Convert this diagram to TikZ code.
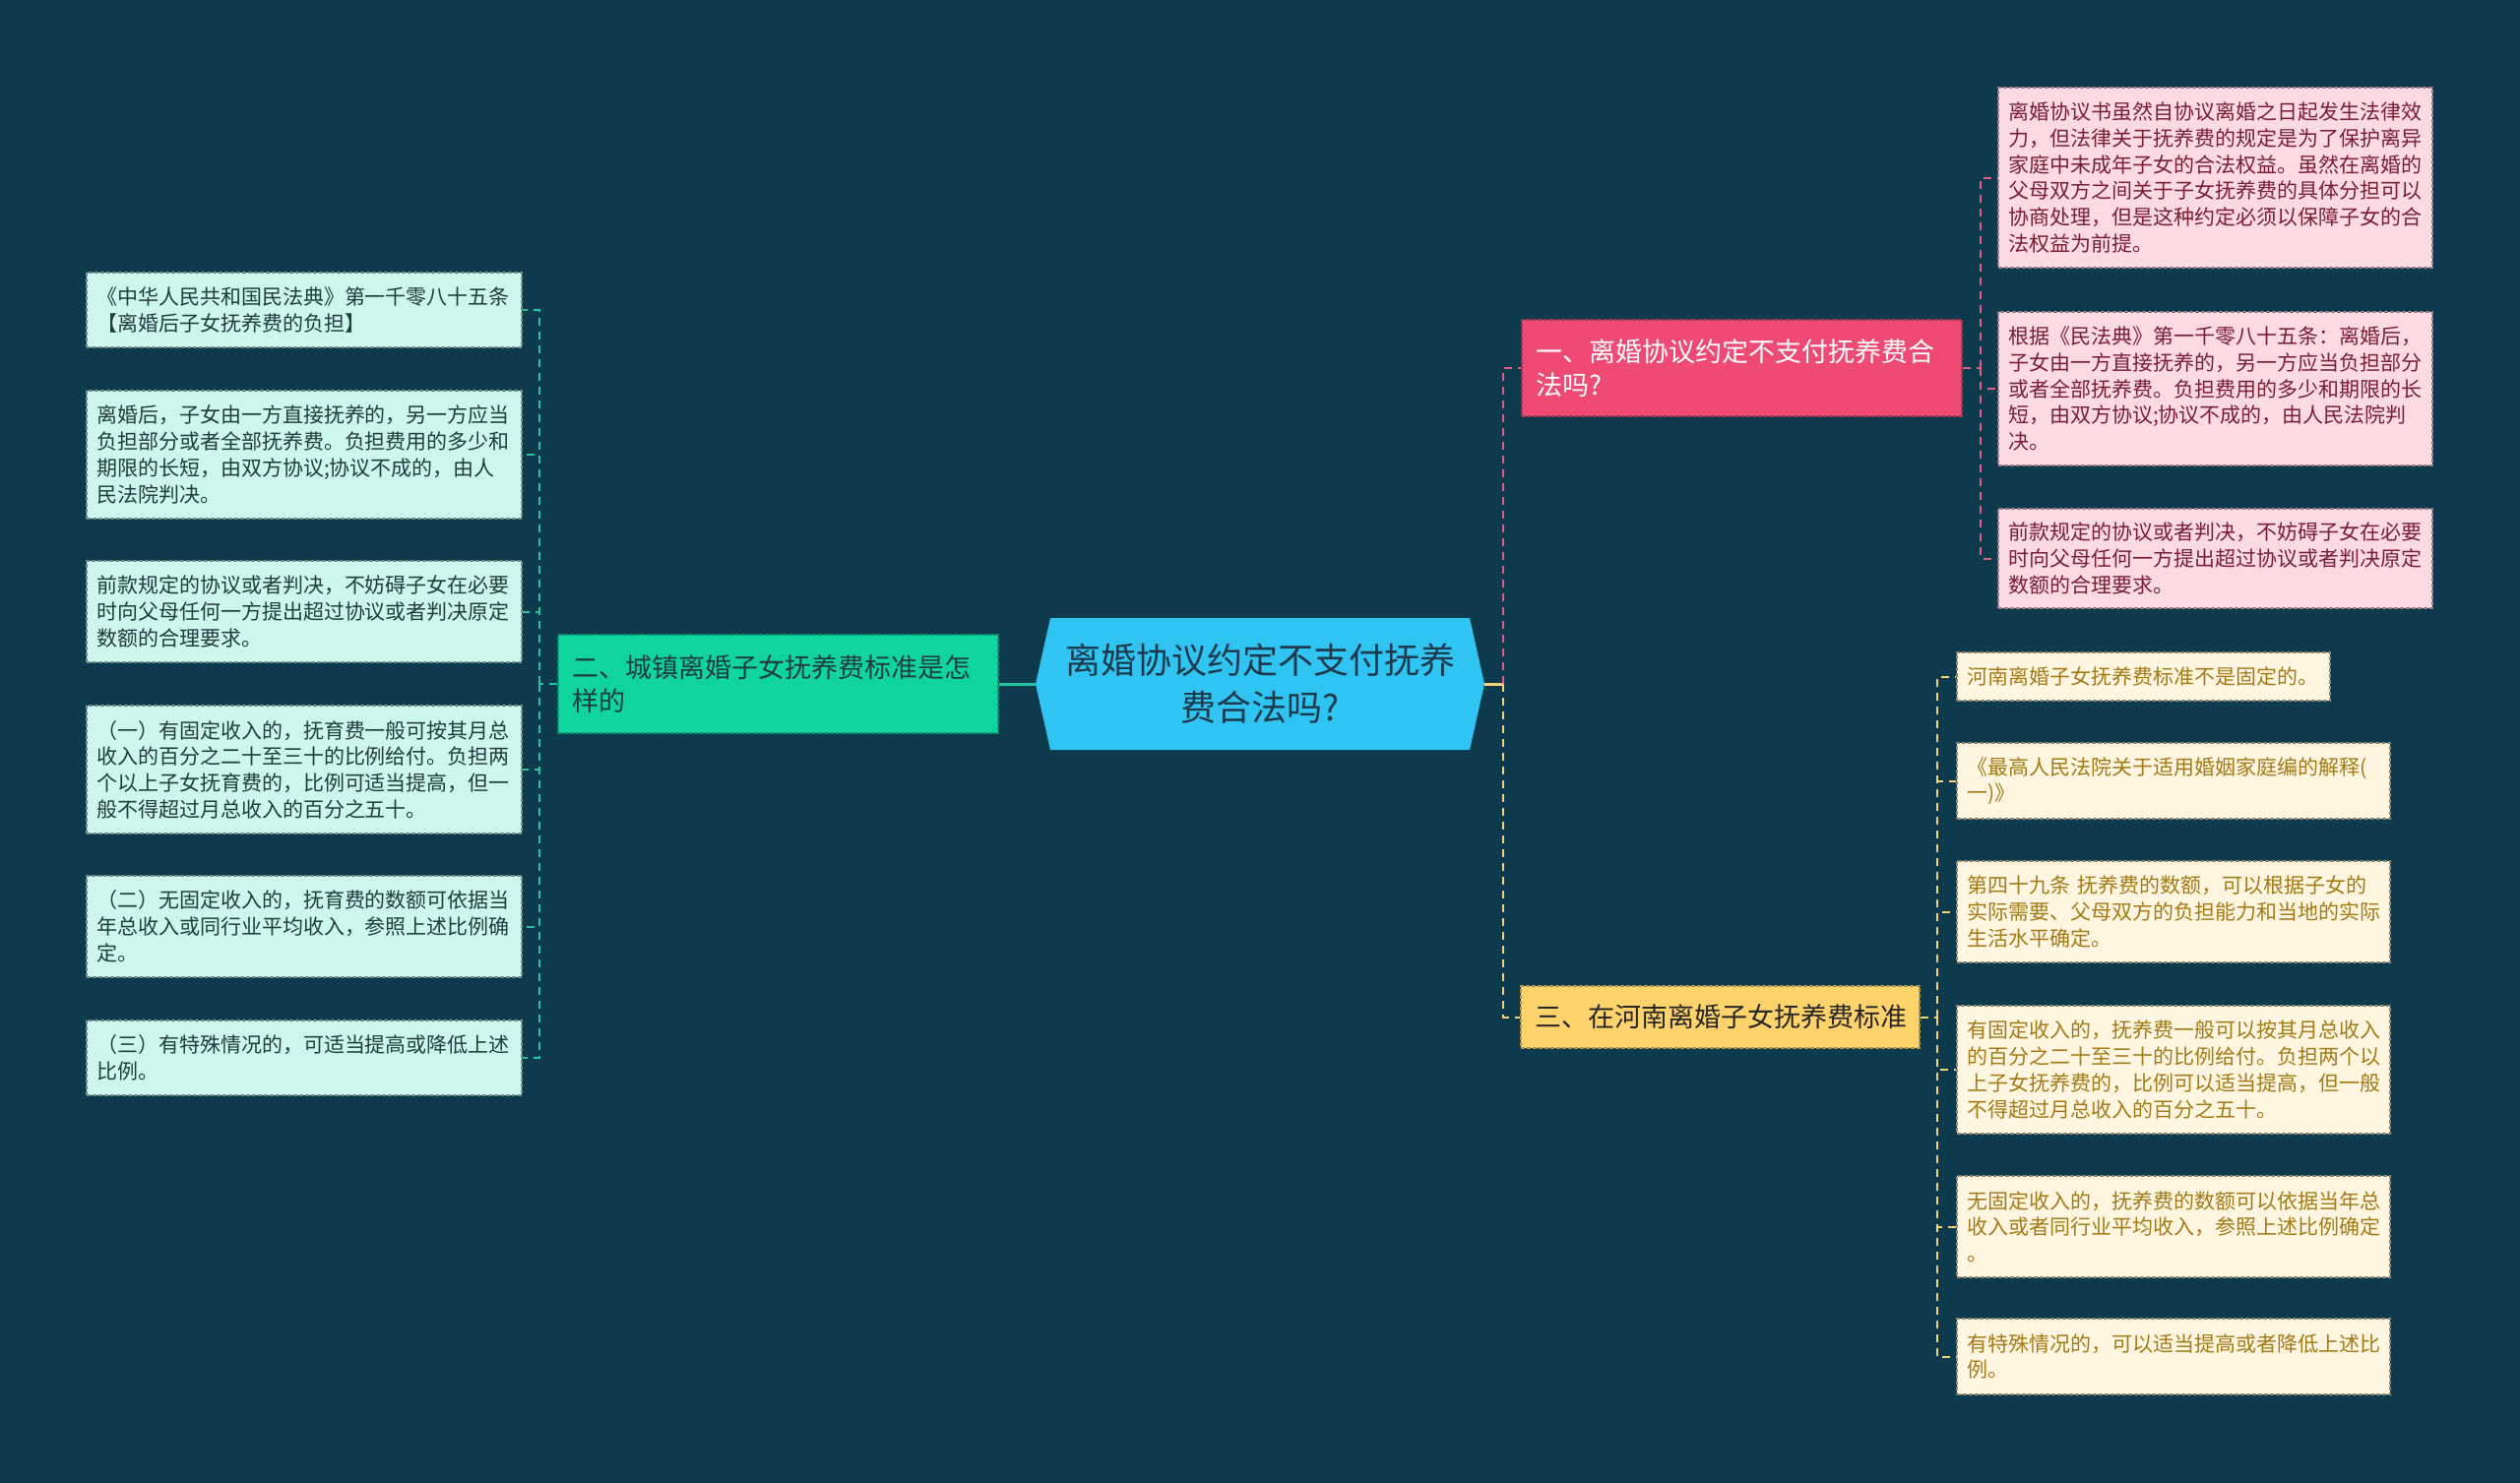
\documentclass[tikz,border=0pt]{standalone}
\usepackage{fontspec}
\setmainfont{Noto Sans CJK SC}
\definecolor{bg}{HTML}{0D3A4D}
\definecolor{centerfill}{HTML}{30C4F2}
\definecolor{centertext}{HTML}{1D3A4C}
\definecolor{pinkbranch}{HTML}{EE4A73}
\definecolor{pinkleaf}{HTML}{FBDAE2}
\definecolor{pinktext}{HTML}{7A1E34}
\definecolor{pinkline}{HTML}{DE5E86}
\definecolor{pinkborder}{HTML}{9A7C86}
\definecolor{greenbranch}{HTML}{10D49E}
\definecolor{greenleaf}{HTML}{CDF6EC}
\definecolor{greentext}{HTML}{1F3D3C}
\definecolor{greenline}{HTML}{25C4A0}
\definecolor{greenborder}{HTML}{6F8C88}
\definecolor{yellowbranch}{HTML}{FFD36B}
\definecolor{yellowleaf}{HTML}{FEF6E1}
\definecolor{yellowtext}{HTML}{A37A16}
\definecolor{yellowline}{HTML}{F3D27A}
\definecolor{yellowborder}{HTML}{8F8670}
\begin{document}
\begin{tikzpicture}[x=1pt,y=-1pt,
  leaf/.style={draw, dash pattern=on 4pt off 2pt, line width=1.1pt, align=left,
    inner xsep=10pt, inner ysep=0pt, anchor=center,
    font=\fontsize{21}{26.7}\selectfont},
  pleaf/.style={leaf, fill=pinkleaf, draw=pinkborder, text=pinktext, text width=421pt, minimum width=441pt},
  gleaf/.style={leaf, fill=greenleaf, draw=greenborder, text=greentext, text width=422pt, minimum width=442pt},
  yleaf/.style={leaf, fill=yellowleaf, draw=yellowborder, text=yellowtext, text width=420pt, minimum width=440pt},
  branch/.style={draw, dash pattern=on 4pt off 2pt, line width=1.1pt, align=left,
    inner xsep=14pt, inner ysep=0pt, anchor=center,
    font=\fontsize{27}{34}\selectfont},
  conn/.style={line width=2pt, dash pattern=on 8pt off 6pt},
  solidconn/.style={line width=3pt}
]
\useasboundingbox (0,0) rectangle (2560,1507);
\fill[bg] (0,0) rectangle (2560,1507);

% center node
\fill[centerfill] (1052,695) -- (1067,628) -- (1493,628) -- (1508,695) -- (1493,762) -- (1067,762) -- cycle;
\node[minimum width=456pt, minimum height=134pt, inner sep=0pt, align=center,
  text=centertext, font=\fontsize{36}{48}\selectfont] (c) at (1280,695)
  {离婚协议约定不支付抚养\\费合法吗?};

% branches
\node[branch, fill=pinkbranch, draw=pinkbranch!70!black, text=white, text width=419pt,
  minimum width=447pt, minimum height=98pt] (b1) at (1769.5,374)
  {一、离婚协议约定不支付抚养费合\\法吗?};
\node[branch, fill=greenbranch, draw=greenbranch!70!black, text=greentext, text width=419pt,
  minimum width=447pt, minimum height=100pt] (b2) at (790.5,695)
  {二、城镇离婚子女抚养费标准是怎\\样的};
\node[branch, fill=yellowbranch, draw=yellowbranch!70!black, text=black!85, text width=377pt,
  minimum width=405pt, minimum height=63pt] (b3) at (1747.5,1033.5)
  {三、在河南离婚子女抚养费标准};

% pink leaves
\node[pleaf, minimum height=183pt] (p1) at (2250.5,180.5)
  {离婚协议书虽然自协议离婚之日起发生法律效\\力，但法律关于抚养费的规定是为了保护离异\\家庭中未成年子女的合法权益。虽然在离婚的\\父母双方之间关于子女抚养费的具体分担可以\\协商处理，但是这种约定必须以保障子女的合\\法权益为前提。};
\node[pleaf, minimum height=156pt] (p2) at (2250.5,395)
  {根据《民法典》第一千零八十五条：离婚后，\\子女由一方直接抚养的，另一方应当负担部分\\或者全部抚养费。负担费用的多少和期限的长\\短，由双方协议;协议不成的，由人民法院判\\决。};
\node[pleaf, minimum height=101pt] (p3) at (2250.5,567.5)
  {前款规定的协议或者判决，不妨碍子女在必要\\时向父母任何一方提出超过协议或者判决原定\\数额的合理要求。};

% green leaves
\node[gleaf, minimum height=76pt] (g1) at (309,315)
  {《中华人民共和国民法典》第一千零八十五条\\【离婚后子女抚养费的负担】};
\node[gleaf, minimum height=130pt] (g2) at (309,462)
  {离婚后，子女由一方直接抚养的，另一方应当\\负担部分或者全部抚养费。负担费用的多少和\\期限的长短，由双方协议;协议不成的，由人\\民法院判决。};
\node[gleaf, minimum height=103pt] (g3) at (309,621.5)
  {前款规定的协议或者判决，不妨碍子女在必要\\时向父母任何一方提出超过协议或者判决原定\\数额的合理要求。};
\node[gleaf, minimum height=130pt] (g4) at (309,782)
  {（一）有固定收入的，抚育费一般可按其月总\\收入的百分之二十至三十的比例给付。负担两\\个以上子女抚育费的，比例可适当提高，但一\\般不得超过月总收入的百分之五十。};
\node[gleaf, minimum height=103pt] (g5) at (309,941.5)
  {（二）无固定收入的，抚育费的数额可依据当\\年总收入或同行业平均收入，参照上述比例确\\定。};
\node[gleaf, minimum height=76pt] (g6) at (309,1075)
  {（三）有特殊情况的，可适当提高或降低上述\\比例。};

% yellow leaves
\node[yleaf, text width=359pt, minimum width=379pt, minimum height=49pt] (y1) at (2177.5,687.5)
  {河南离婚子女抚养费标准不是固定的。};
\node[yleaf, minimum height=77pt] (y2) at (2208,793.5)
  {《最高人民法院关于适用婚姻家庭编的解释(\\一)》};
\node[yleaf, minimum height=103pt] (y3) at (2208,926.5)
  {第四十九条 抚养费的数额，可以根据子女的\\实际需要、父母双方的负担能力和当地的实际\\生活水平确定。};
\node[yleaf, minimum height=130pt] (y4) at (2208,1087)
  {有固定收入的，抚养费一般可以按其月总收入\\的百分之二十至三十的比例给付。负担两个以\\上子女抚养费的，比例可以适当提高，但一般\\不得超过月总收入的百分之五十。};
\node[yleaf, minimum height=103pt] (y5) at (2208,1246.5)
  {无固定收入的，抚养费的数额可以依据当年总\\收入或者同行业平均收入，参照上述比例确定\\。};
\node[yleaf, minimum height=77pt] (y6) at (2208,1378.5)
  {有特殊情况的，可以适当提高或者降低上述比\\例。};

% center connectors
\coordinate (jr) at (1527,695);
\draw[solidconn, yellowline] (c.east) -- (jr);
\draw[conn, pinkline] (jr) |- (b1.west);
\draw[conn, yellowline] (jr) |- (b3.west);
\draw[solidconn, greenline] (c.west) -- (b2.east);

% pink branch
\coordinate (pj) at (2012,374);
\draw[conn, pinkline] (b1.east) -- (pj);
\foreach \n in {p1,p2,p3} \draw[conn, pinkline] (pj) |- (\n.west);

% green branch
\coordinate (gj) at (548,695);
\draw[conn, greenline] (b2.west) -- (gj);
\foreach \n in {g1,g2,g3,g4,g5,g6} \draw[conn, greenline] (gj) |- (\n.east);

% yellow branch
\coordinate (yj) at (1968,1033.5);
\draw[conn, yellowline] (b3.east) -- (yj);
\foreach \n in {y1,y2,y3,y4,y5,y6} \draw[conn, yellowline] (yj) |- (\n.west);
\end{tikzpicture}
\end{document}
